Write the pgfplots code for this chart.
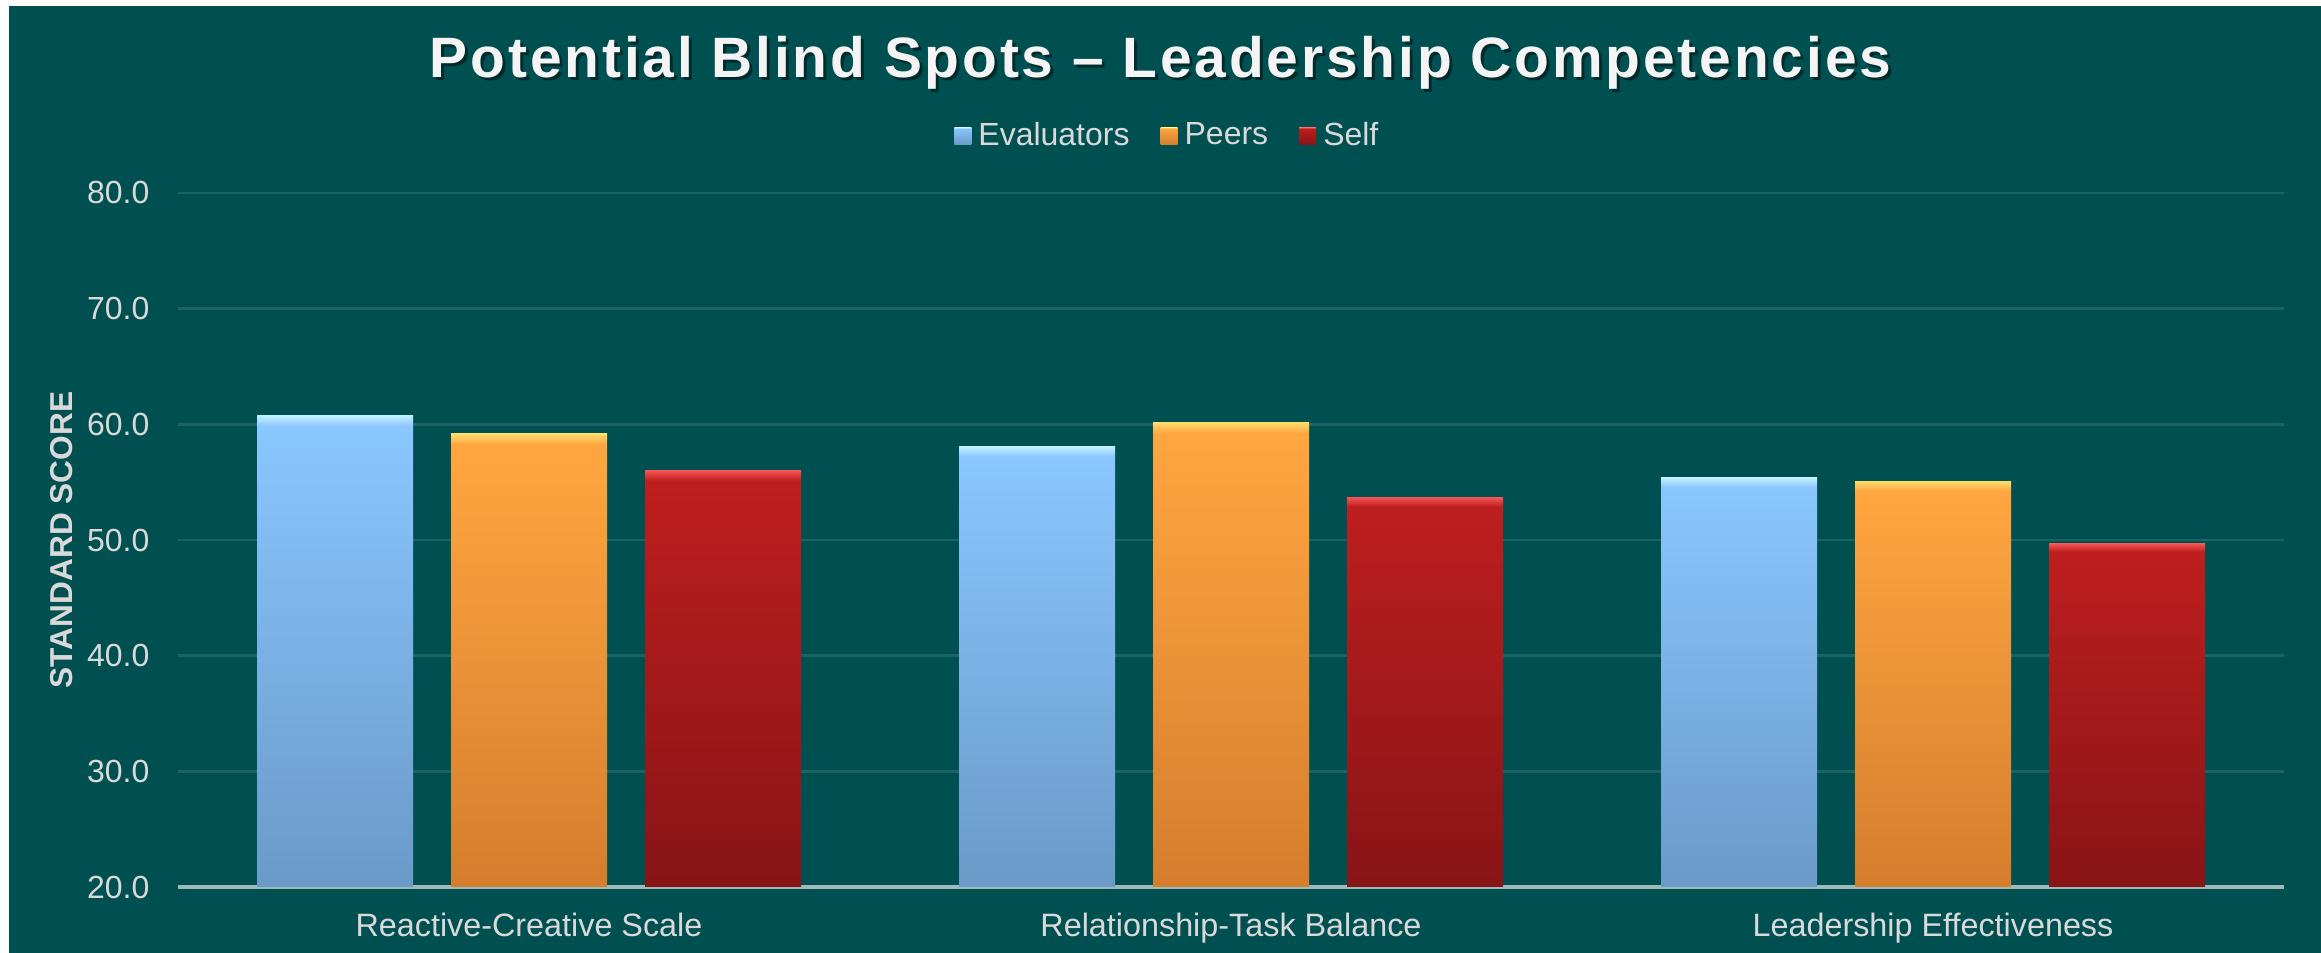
\documentclass[border=0pt]{standalone}
\usepackage{pgfplots}
\pgfplotsset{compat=1.18}
\usepackage{fontspec}
\setmainfont{Liberation Sans}
\newfontfamily\titlefont[LetterSpace=5]{Liberation Sans}
\definecolor{bg}{RGB}{1,80,81}
\definecolor{lbl}{RGB}{217,217,217}
\definecolor{titlecol}{RGB}{244,244,244}
\definecolor{gridcol}{RGB}{28,100,100}
\definecolor{axisgray}{RGB}{160,185,185}
\definecolor{evT}{RGB}{138,198,255}
\definecolor{evB}{RGB}{106,154,200}
\definecolor{evH}{RGB}{195,242,255}
\definecolor{peT}{RGB}{255,166,64}
\definecolor{peB}{RGB}{212,126,46}
\definecolor{peH}{RGB}{255,222,110}
\definecolor{seT}{RGB}{190,30,30}
\definecolor{seB}{RGB}{136,20,22}
\definecolor{seH}{RGB}{245,85,85}
\pgfdeclareverticalshading{evalshade}{100bp}{color(0bp)=(evB); color(25bp)=(evB); color(73.8bp)=(evT); color(75bp)=(evH); color(100bp)=(evH)}
\pgfdeclareverticalshading{peershade}{100bp}{color(0bp)=(peB); color(25bp)=(peB); color(73.8bp)=(peT); color(75bp)=(peH); color(100bp)=(peH)}
\pgfdeclareverticalshading{selfshade}{100bp}{color(0bp)=(seB); color(25bp)=(seB); color(73.8bp)=(seT); color(75bp)=(seH); color(100bp)=(seH)}
\pgfplotsset{
  sqlegend/.style={legend image code/.code={\path[##1] (0mm,-0.85mm) rectangle (1.7mm,0.85mm);}},
  ev/.style={ybar, bar width=15.6mm, bar shift=-19.4mm, shade, shading=evalshade, draw=none, sqlegend},
  pe/.style={ybar, bar width=15.6mm, bar shift=0mm, shade, shading=peershade, draw=none, sqlegend},
  se/.style={ybar, bar width=15.6mm, bar shift=19.4mm, shade, shading=selfshade, draw=none, sqlegend},
}
\begin{document}
\begin{tikzpicture}
\fill[white] (0mm,0mm) rectangle (232.1mm,95.3mm);
\fill[bg] (0.9mm,0mm) rectangle (232.1mm,94.7mm);
\node[text=black, opacity=0.45, anchor=base, inner sep=0pt] at (116.35mm,87.2mm) {\titlefont\bfseries\fontsize{16.2}{19}\selectfont Potential Blind Spots – Leadership Competencies};
\node[text=titlecol, anchor=base, inner sep=0pt] at (116.05mm,87.5mm) {\titlefont\bfseries\fontsize{16.2}{19}\selectfont Potential Blind Spots – Leadership Competencies};
\begin{axis}[
  at={(17.8mm,6.6mm)}, anchor=south west,
  scale only axis, width=210.6mm, height=69.4mm,
  xmin=-0.5, xmax=2.5, ymin=20, ymax=80,
  ytick={20,30,40,50,60,70,80},
  xtick={0,1,2},
  xticklabels={Reactive-Creative Scale, Relationship-Task Balance, Leadership Effectiveness},
  axis x line*=bottom, axis y line*=left,
  x axis line style={-, draw=axisgray, line width=0.35mm},
  y axis line style={draw=none},
  major tick length=0pt, tick style={draw=none},
  ymajorgrids, grid style={draw=gridcol, line width=0.25mm},
  /pgf/number format/assume math mode=true,
  yticklabel style={/pgf/number format/fixed, /pgf/number format/fixed zerofill, /pgf/number format/precision=1, anchor=east, inner sep=0pt, xshift=-2.8mm, text=lbl, font=\fontsize{9.1}{11}\selectfont},
  xticklabel style={anchor=north, inner sep=0pt, yshift=-2.5mm, text=lbl, font=\fontsize{9.2}{11}\selectfont},
  ylabel={\textbf{STANDARD SCORE}},
  every axis y label/.style={at={(axis description cs:-0.0551,0.5)}, rotate=90, anchor=center, text=lbl, font=\fontsize{9}{11}\selectfont},
  legend style={at={(0.471,1.082)}, anchor=center, legend columns=3, draw=none, fill=none, text=lbl, font=\fontsize{9.1}{11}\selectfont, /tikz/every even column/.append style={column sep=2.4mm}},
]
\addplot[ev] coordinates {(0,60.8)};
\addplot[pe] coordinates {(0,59.2)};
\addplot[se] coordinates {(0,56.0)};
\addplot[ev, forget plot] coordinates {(1,58.1)};
\addplot[ev, forget plot] coordinates {(2,55.4)};
\addplot[pe, forget plot] coordinates {(1,60.2)};
\addplot[pe, forget plot] coordinates {(2,55.1)};
\addplot[se, forget plot] coordinates {(1,53.7)};
\addplot[se, forget plot] coordinates {(2,49.7)};
\legend{Evaluators, Peers, Self}
\end{axis}
\end{tikzpicture}
\end{document}
